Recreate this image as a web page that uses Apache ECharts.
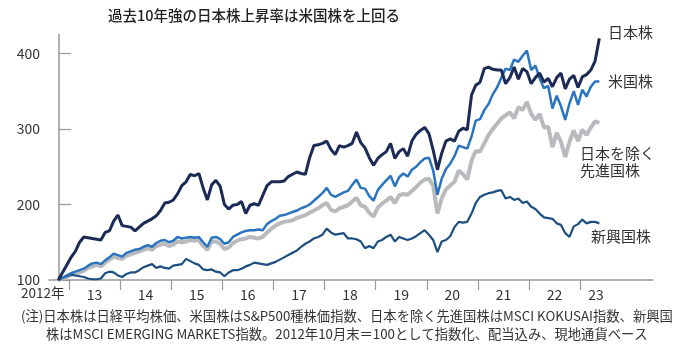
<!DOCTYPE html>
<html><head><meta charset="utf-8">
<script src="https://cdn.jsdelivr.net/npm/echarts@6/dist/echarts.min.js"></script>
<style>html,body{margin:0;padding:0;background:#fff}#c{width:678px;height:352px}</style>
</head><body><div id="c"></div>
<script>
// Monthly index values, end of Oct 2012 = 100 (month 0), through mid-2023
const japan = [100,110,120,130,138,150,157,156,155,154,153,163,165,178,186,172,171,170,165,170,175,178,181,185,192,202,203,206,214,225,230,240,238,241,222,206,226,232,224,200,194,199,200,204,188,199,201,199,212,225,230,230,230,231,237,240,243,241,240,262,278,279,281,284,273,266,278,276,278,281,296,282,275,262,252,261,266,270,281,261,270,274,264,284,293,298,302,294,272,246,268,284,287,284,297,301,299,345,358,362,380,382,379,378,378,360,368,382,366,380,376,360,368,374,362,367,356,368,374,353,366,371,355,369,372,378,390,420];
const usa = [100,103,106,109,111,113,115,119,122,123,121,126,130,135,133,131,136,138,140,141,144,146,144,149,152,153,150,152,157,155,156,157,156,157,150,144,156,157,154,148,150,157,160,163,165,166,166,167,166,174,178,181,185,186,188,190,192,195,197,200,205,210,215,222,213,210,213,216,218,226,233,222,221,211,205,219,226,232,238,224,236,241,237,246,250,256,261,262,245,213,234,247,254,264,278,276,274,290,311,313,325,333,346,355,368,380,378,392,389,397,404,378,384,367,354,357,327,344,330,312,334,350,332,352,343,356,363,363];
const developedExJapan = [100,102,104,107,109,110,112,116,118,120,118,123,127,131,129,128,132,134,136,138,140,142,140,145,147,148,145,147,151,150,151,153,152,153,145,140,151,151,148,141,143,149,152,154,155,157,156,155,157,163,168,172,175,177,178,179,182,184,186,189,192,195,199,202,193,191,195,197,199,204,209,199,197,189,184,196,201,205,210,202,212,214,213,218,223,229,233,234,225,188,208,220,225,230,245,240,233,258,271,270,281,292,300,307,314,318,322,314,329,325,336,320,312,320,302,303,276,295,283,263,283,298,284,299,292,302,310,308];
const emerging = [100,103,105,107,106,105,104,102,101,101,102,109,111,110,106,104,108,110,110,113,117,119,121,116,118,116,115,119,120,121,128,125,122,120,114,113,114,111,110,105,110,113,113,115,118,120,123,122,121,120,122,124,127,130,133,136,139,144,148,151,155,157,160,168,163,160,161,162,155,155,154,151,142,145,142,151,153,157,160,151,157,155,153,155,158,162,166,160,153,137,151,153,158,170,177,176,177,188,202,210,213,215,216,218,219,208,210,206,208,202,204,197,194,188,183,182,181,175,173,162,157,171,174,180,175,177,177,175];

const seriesNames = ['日本株','米国株','日本を除く先進国株','新興国株'];
const yTicks = [100,200,300,400];
const yearTickMonths = [2.5,14.5,26.5,38.5,50.5,62.5,74.5,86.5,98.5,110.5,122.5];
const yearLabels = ['13','14','15','16','17','18','19','20','21','22','23'];
const yearLabelMonths = [8.5,20.5,32.5,44.5,56.5,68.5,80.5,92.5,104.5,116.5,126.2];
const firstYearLabel = '2012年';
const title = '過去10年強の日本株上昇率は米国株を上回る';
const note1 = '(注)日本株は日経平均株価、米国株はS&P500種株価指数、日本を除く先進国株はMSCI KOKUSAI指数、新興国';
const note2 = '株はMSCI EMERGING MARKETS指数。2012年10月末＝100として指数化、配当込み、現地通貨ベース';

const FONT = '"Noto Sans CJK JP","Noto Sans",sans-serif';
const toPts = a => a.map((v,i)=>[i,v]);
const chart = echarts.init(document.getElementById('c'), null, {renderer:'canvas'});
const labelMap = {};
yearLabelMonths.forEach((m,i)=>labelMap[m.toFixed(1)] = yearLabels[i]);

const txt = (text,left,top,size,extra) => Object.assign({type:'text',left,top,style:{text,fill:'#333',font:`${size}px ${FONT}`}}, extra||{});

chart.setOption({
  animation:false,
  grid:{left:49,right:25,top:34.6,bottom:72},
  xAxis:{type:'value',min:-2.18,max:139.6,
    axisLine:{show:true,lineStyle:{color:'#999',width:1.5}},
    axisTick:{show:true,customValues:yearTickMonths,length:10,lineStyle:{color:'#999',width:1.2}},
    axisLabel:{customValues:yearLabelMonths,formatter:v=>labelMap[Number(v).toFixed(1)]||'',color:'#333',fontSize:14,fontFamily:FONT,margin:8},
    splitLine:{show:false}},
  yAxis:{type:'value',min:100,max:425,
    axisLine:{show:true,lineStyle:{color:'#999',width:1.5}},
    axisTick:{show:true,inside:true,customValues:yTicks,length:13,lineStyle:{color:'#999',width:1.2}},
    axisLabel:{customValues:yTicks,color:'#333',fontSize:14,fontFamily:FONT,margin:9},
    splitLine:{show:false}},
  series:[
    {name:seriesNames[2],type:'line',data:toPts(developedExJapan),symbol:'none',lineStyle:{color:'#b9babd',width:4},z:2},
    {name:seriesNames[3],type:'line',data:toPts(emerging),symbol:'none',lineStyle:{color:'#1c4f7f',width:2.2},z:3},
    {name:seriesNames[1],type:'line',data:toPts(usa),symbol:'none',lineStyle:{color:'#2a74c0',width:2.5},z:4},
    {name:seriesNames[0],type:'line',data:toPts(japan),symbol:'none',lineStyle:{color:'#1c2a56',width:3},z:5}
  ],
  graphic:[
    txt(title,108,8,14.5,{style:{text:title,fill:'#222',font:`500 14.5px ${FONT}`}}),
    txt(seriesNames[0],608,25,15),
    txt(seriesNames[1],608,74,15),
    txt('日本を除く',580,146,15),
    txt('先進国株',580,163,15),
    txt(seriesNames[3],591,229,15),
    txt(firstYearLabel,21,286,13.5),
    txt(note1,21,309,13.3),
    txt(note2,46,327,13.3)
  ]
});
</script></body></html>
